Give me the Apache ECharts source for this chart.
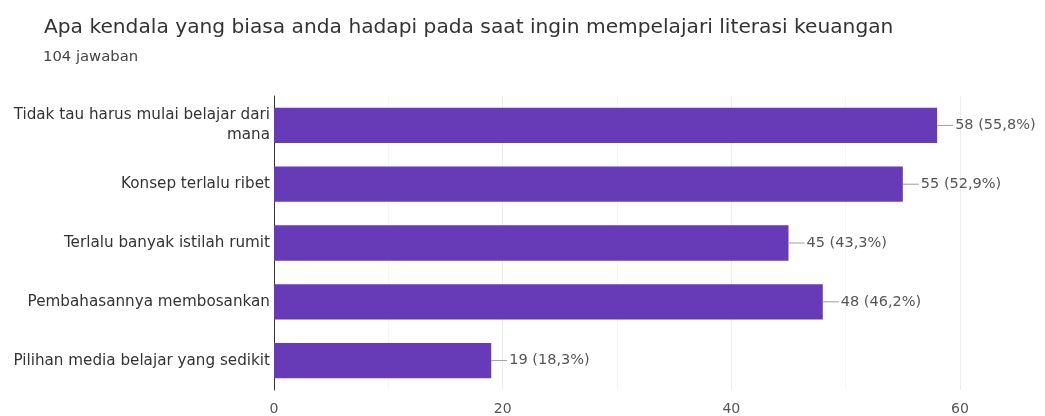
<!DOCTYPE html>
<html>
<head>
<meta charset="utf-8">
<script src="https://cdn.jsdelivr.net/npm/echarts@6/dist/echarts.min.js"></script>
<style>
  html, body { margin: 0; padding: 0; background: #fff; }
  #chart { width: 1045px; height: 416px; }
</style>
</head>
<body>
<div id="chart"></div>
<script>
// Survey answers: obstacles when learning financial literacy
const categories = [
  'Tidak tau harus mulai belajar dari\nmana',
  'Konsep terlalu ribet',
  'Terlalu banyak istilah rumit',
  'Pembahasannya membosankan',
  'Pilihan media belajar yang sedikit'
];
const counts = [58, 55, 45, 48, 19];
const percents = ['55,8', '52,9', '43,3', '46,2', '18,3'];
const xTicks = [0, 20, 40, 60];

const FONT = 'DejaVu Sans';
const chart = echarts.init(document.getElementById('chart'), null, { renderer: 'canvas' });

chart.setOption({
  animation: false,
  backgroundColor: '#ffffff',
  textStyle: { fontFamily: FONT },
  title: [
    {
      text: 'Apa kendala yang biasa anda hadapi pada saat ingin mempelajari literasi keuangan',
      left: 39, top: 18,
      padding: [0, 5, 0, 5],
      textStyle: { fontFamily: FONT, fontSize: 20.2, fontWeight: 'normal', color: '#333333' }
    },
    {
      text: '104 jawaban',
      left: 38, top: 50,
      padding: [0, 5, 0, 5],
      textStyle: { fontFamily: FONT, fontSize: 14.8, fontWeight: 'normal', color: '#444444' }
    }
  ],
  grid: { left: 274, right: 85, top: 96, bottom: 26, containLabel: false },
  xAxis: {
    type: 'value',
    min: xTicks[0],
    max: xTicks[xTicks.length - 1],
    interval: 20,
    axisLine: { show: false },
    axisTick: { show: false },
    axisLabel: { color: '#555555', fontSize: 14, fontFamily: FONT, margin: 12 },
    splitLine: { show: true, lineStyle: { color: '#ececec', width: 1 } },
    minorTick: { show: false, splitNumber: 2 },
    minorSplitLine: { show: true, lineStyle: { color: '#f6f6f6', width: 1 } }
  },
  yAxis: {
    type: 'category',
    data: categories,
    inverse: true,
    axisLine: { show: true, lineStyle: { color: '#333333', width: 1 } },
    axisTick: { show: false },
    axisLabel: {
      color: '#333333', fontSize: 15.2, fontFamily: FONT, margin: 4,
      lineHeight: 20, align: 'right'
    },
    splitLine: { show: false }
  },
  series: [{
    type: 'bar',
    data: counts,
    barCategoryGap: '40%',
    itemStyle: { color: '#673ab7' },
    label: {
      show: true,
      position: 'right',
      distance: 0,
      formatter: (p) => '{l|}{t|' + p.value + ' (' + percents[p.dataIndex] + '%)}',
      rich: {
        l: { width: 16, height: 1, backgroundColor: '#9e9e9e' },
        t: { color: '#555555', fontSize: 14.5, fontFamily: FONT, padding: [0, 0, 0, 2] }
      }
    }
  }]
});
</script>
</body>
</html>
